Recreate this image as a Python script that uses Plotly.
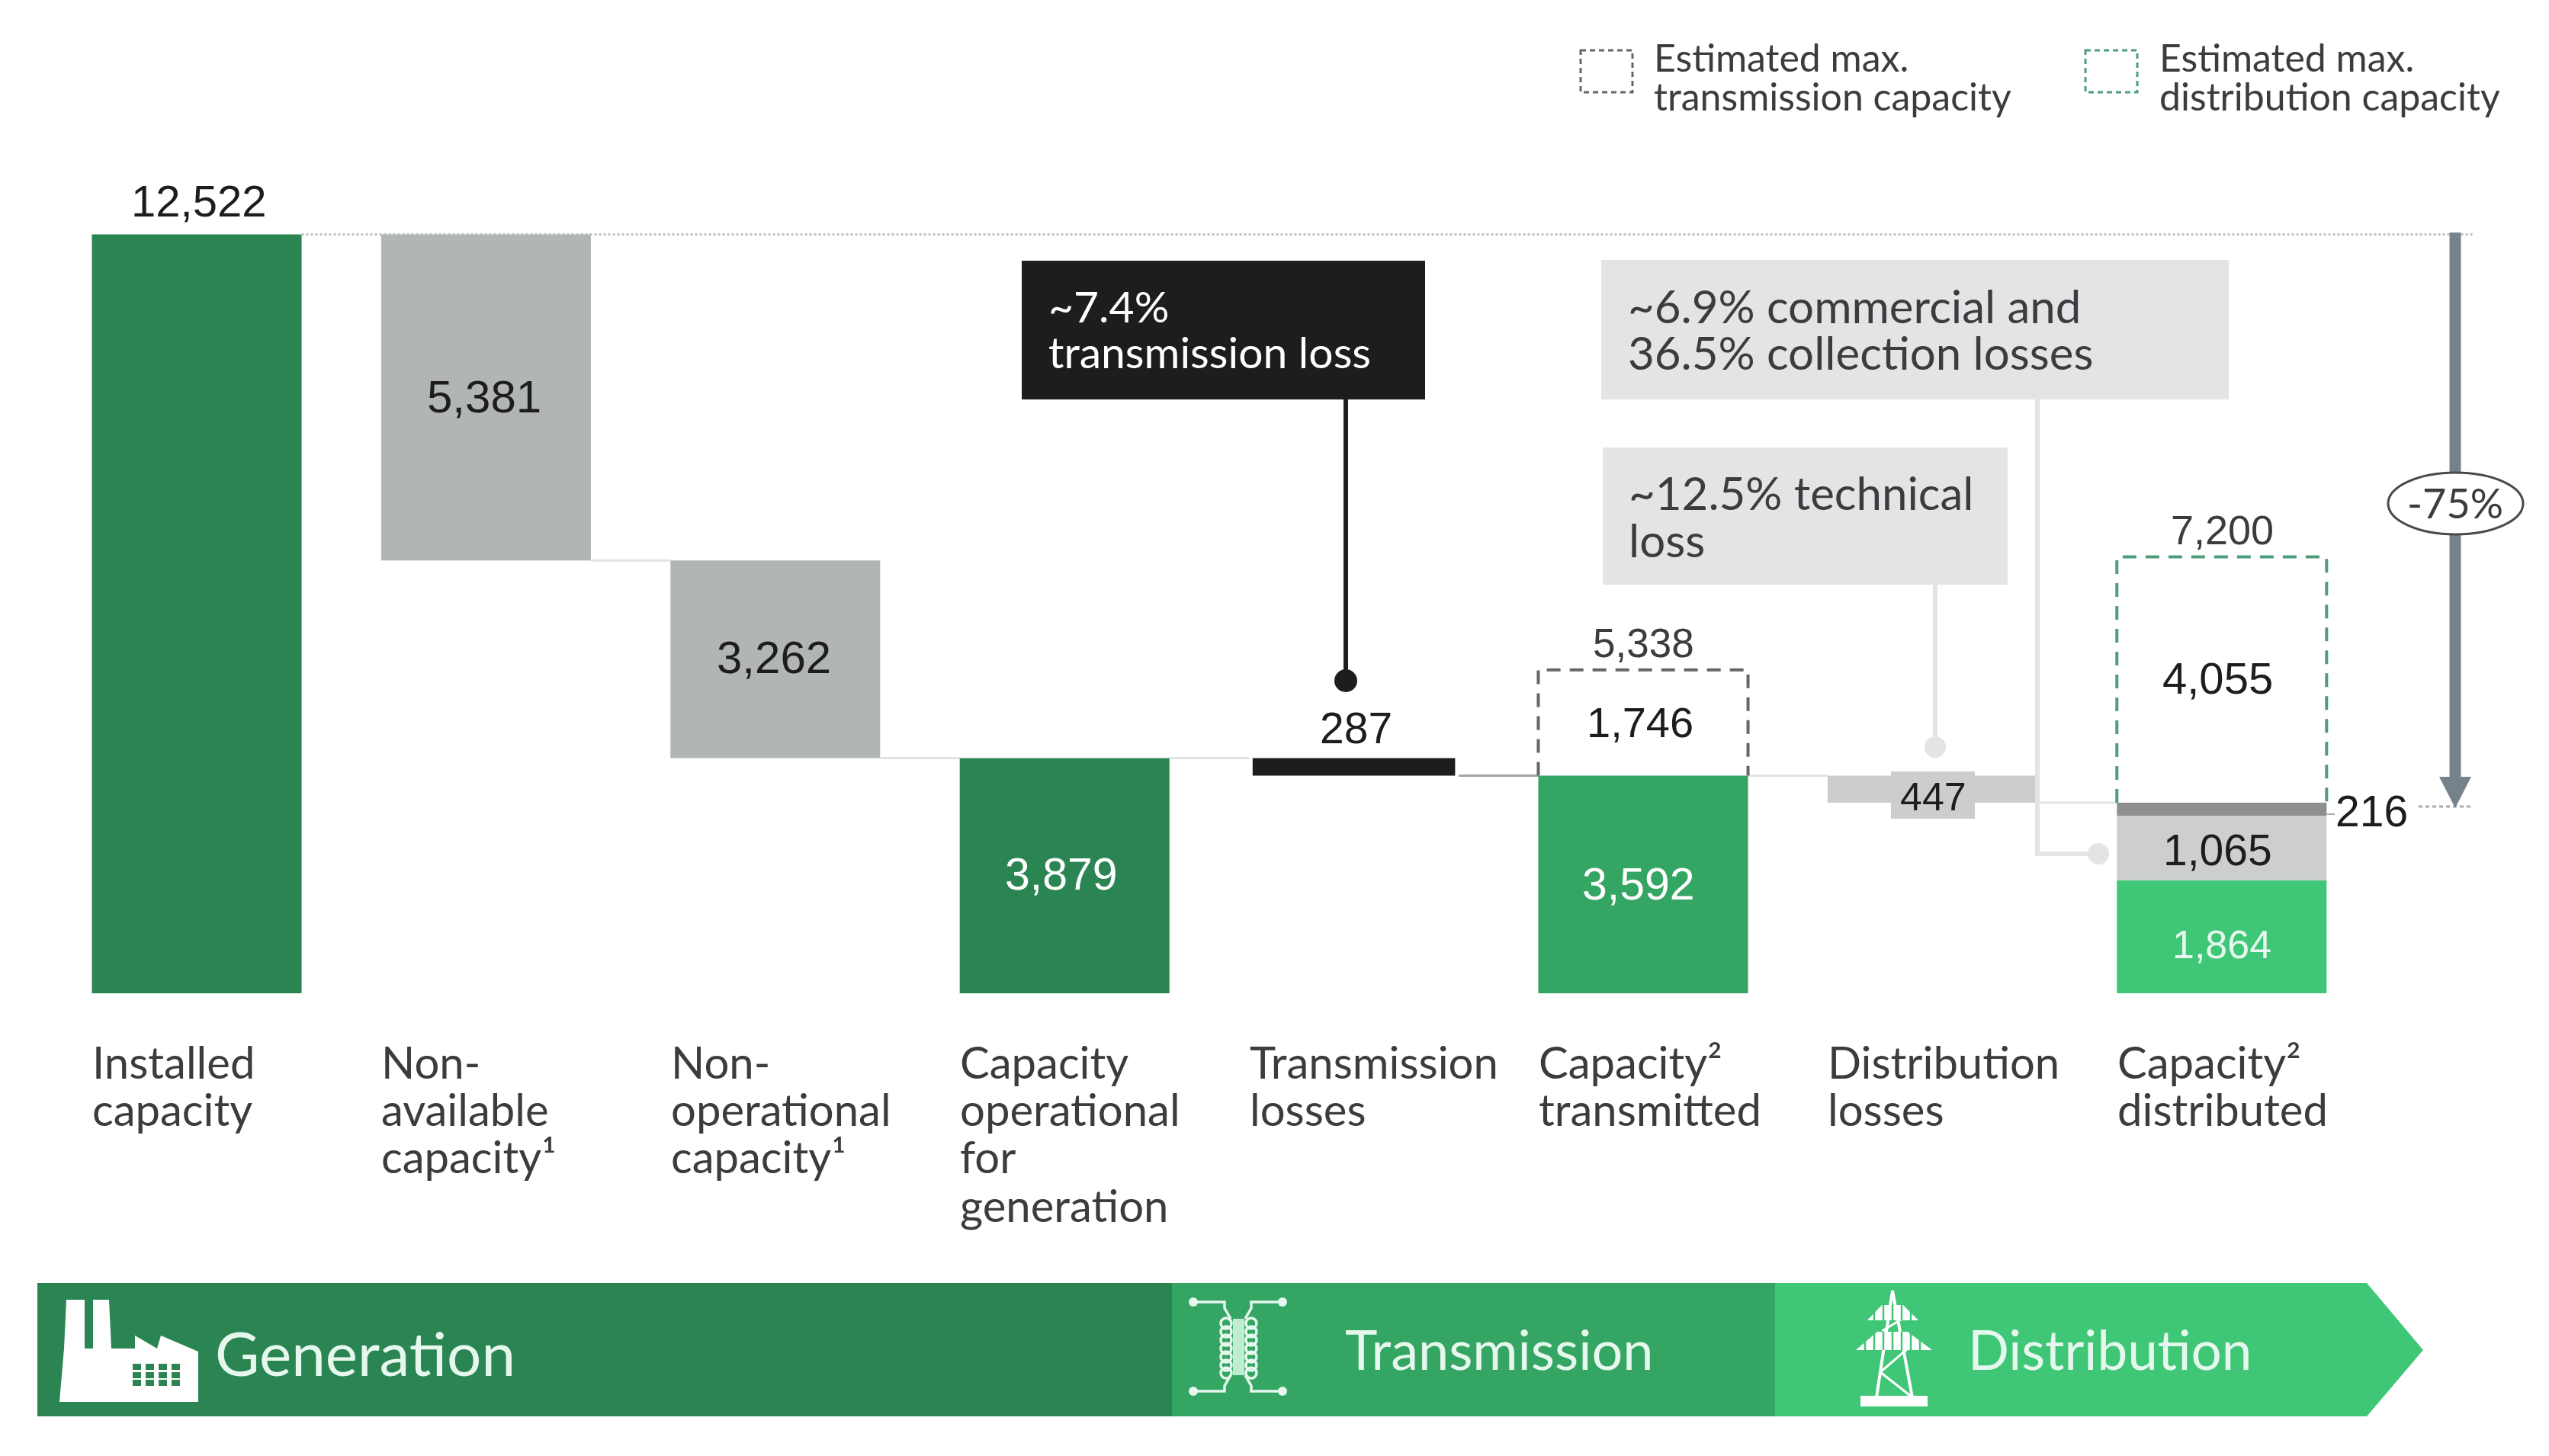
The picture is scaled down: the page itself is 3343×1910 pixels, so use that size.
"""Capacity waterfall: generation, transmission, distribution"""

import plotly.graph_objects as go

W, H = 3343, 1910

CATEGORIES = [
    ["Installed", "capacity"],
    ["Non-", "available", "capacity¹"],
    ["Non-", "operational", "capacity¹"],
    ["Capacity", "operational", "for", "generation"],
    ["Transmission", "losses"],
    ["Capacity²", "transmitted"],
    ["Distribution", "losses"],
    ["Capacity²", "distributed"],
]

INSTALLED = 12522
NON_AVAILABLE = 5381
NON_OPERATIONAL = 3262
OPERATIONAL = 3879
TRANS_LOSS = 287
TRANSMITTED = 3592
TRANS_MAX_EXTRA = 1746
TRANS_MAX = 5338
DIST_LOSS = 447
DISTRIBUTED = 1864
COLLECTION_LOSS = 1065
TECH_GAP = 216
DIST_MAX_EXTRA = 4055
DIST_MAX = 7200

GEN_GREEN = "#2A8552"
TRANS_GREEN = "#34A562"
DIST_GREEN = "#3FC677"
GREY = "#B1B5B6"
BLACK = "#1E1C1D"
LIGHT = "#CCCDCF"
PALE = "#E2E4E6"
ARROW = "#76828A"
TEXT = "#3C3C3E"
MINT = "#E6F8EE"

SANS = "Liberation Sans"
BODY = "Lato"

# 軸スケール（ピクセル位置に合わせる）
X0, X_STEP = 258, 379.4
Y0, Y_SCALE = 1303, 0.0795
BAR_W = 0.725


def px(x):
    return x / W


def py(y):
    return 1 - y / H


def path(points, close=True):
    s = " ".join(f"{'M' if i == 0 else 'L'} {px(x):.5f},{py(y):.5f}" for i, (x, y) in enumerate(points))
    return s + (" Z" if close else "")


fig = go.Figure()

# 滝グラフ本体
after_avail = INSTALLED - NON_AVAILABLE
after_oper = after_avail - NON_OPERATIONAL
after_dist = TRANSMITTED - DIST_LOSS

bars = [
    (0, INSTALLED, 0, GEN_GREEN),
    (1, NON_AVAILABLE, after_avail, GREY),
    (2, NON_OPERATIONAL, after_oper, GREY),
    (3, OPERATIONAL, 0, GEN_GREEN),
    (4, TRANS_LOSS, TRANSMITTED, BLACK),
    (5, TRANSMITTED, 0, TRANS_GREEN),
    (6, DIST_LOSS, after_dist, LIGHT),
    (7, DISTRIBUTED, 0, DIST_GREEN),
    (7, COLLECTION_LOSS, DISTRIBUTED, "#CDCED0"),
    (7, TECH_GAP, DISTRIBUTED + COLLECTION_LOSS, "#8E8F91"),
]
fig.add_trace(go.Bar(
    x=[b[0] for b in bars],
    y=[b[1] for b in bars],
    base=[b[2] for b in bars],
    width=[0.7 if b[0] == 4 else BAR_W for b in bars],
    marker=dict(color=[b[3] for b in bars], line_width=0),
    hoverinfo="skip",
))

# 破線の最大容量
for i, low, high, color in [(5, TRANSMITTED, TRANS_MAX, "#666668"), (7, after_dist, DIST_MAX, "#4E9E7C")]:
    left, right = i - BAR_W / 2, i + BAR_W / 2
    fig.add_trace(go.Scatter(
        x=[left, left, right, right], y=[low, high, high, low],
        mode="lines", line=dict(color=color, width=4, dash="18px,12px"),
        hoverinfo="skip",
    ))


def connector(i, value, color="#E2E3E4", dash=None, width=3, to=None):
    fig.add_shape(
        type="line", xref="x", yref="y", layer="below",
        x0=i + BAR_W / 2, x1=(to if to is not None else i + 1 - BAR_W / 2), y0=value, y1=value,
        line=dict(color=color, width=width, dash=dash),
    )


connector(1, after_avail)
connector(2, after_oper)
connector(3, OPERATIONAL)
connector(4, TRANSMITTED, color="#A3A4A6")
connector(5, TRANSMITTED)
connector(6, after_dist)
# 上部の点線
connector(0, INSTALLED, color="#BDBFC0", dash="3px,3px", to=(3243 - X0) / X_STEP)
fig.add_shape(type="line", xref="paper", yref="paper", x0=px(3172), x1=px(3241), y0=py(1058), y1=py(1058),
              line=dict(color="#A9ABAD", width=3, dash="5px,4px"))
fig.add_shape(type="line", xref="paper", yref="paper", x0=px(3052), x1=px(3062), y0=py(1068), y1=py(1068),
              line=dict(color="#A9ABAD", width=2))


def rect(x0, y0, x1, y1, fill, layer="above"):
    fig.add_shape(type="rect", xref="paper", yref="paper", x0=px(x0), x1=px(x1), y0=py(y0), y1=py(y1),
                  fillcolor=fill, line_width=0, layer=layer)


def seg(points, color, width, layer="above"):
    fig.add_shape(type="path", xref="paper", yref="paper", path=path(points, close=False),
                  line=dict(color=color, width=width), layer=layer)


def dot(x, y, r, fill, line=None, width=0):
    fig.add_shape(type="circle", xref="paper", yref="paper", x0=px(x - r), x1=px(x + r), y0=py(y - r), y1=py(y + r),
                  fillcolor=fill, line=dict(color=line or fill, width=width))


def poly(points, fill):
    fig.add_shape(type="path", xref="paper", yref="paper", path=path(points), fillcolor=fill, line_width=0)


def text(x, y, s, size, color=TEXT, family=BODY, anchor="left"):
    fig.add_annotation(
        xref="paper", yref="paper", x=px(x), y=py(y), text=s, showarrow=False,
        xanchor=anchor, yanchor="middle", font=dict(family=family, size=size, color=color),
    )


# 吹き出し
rect(1340, 342, 1869, 524, BLACK)
seg([(1765, 524), (1765, 893)], BLACK, 6)
dot(1765, 893, 15, BLACK)
rect(2100, 341, 2923, 524, PALE)
seg([(2672, 524), (2672, 1120), (2752, 1120)], PALE, 6)
dot(2752, 1120, 14, PALE)
rect(2102, 587, 2633, 767, PALE)
seg([(2538, 767), (2538, 980)], PALE, 6)
dot(2538, 980, 14, PALE)
rect(2480, 1012, 2590, 1074, LIGHT)

# -75% 矢印
seg([(3220, 305), (3220, 1025)], ARROW, 15)
poly([(3199, 1019), (3241, 1019), (3220, 1060)], ARROW)
fig.add_shape(type="circle", xref="paper", yref="paper", x0=px(3132), x1=px(3309), y0=py(620), y1=py(701),
              fillcolor="white", line=dict(color="#4A4A4C", width=3))

# 凡例
for x0, color in [(2073, "#666668"), (2735, "#4E9E7C")]:
    fig.add_shape(type="rect", xref="paper", yref="paper", x0=px(x0), x1=px(x0 + 68), y0=py(66), y1=py(121),
                  line=dict(color=color, width=3, dash="7px,5px"))

# 下部リボン
rect(49, 1683, 1537, 1858, GEN_GREEN)
rect(1537, 1683, 2328, 1858, TRANS_GREEN)
poly([(2328, 1683), (3104, 1683), (3178, 1771), (3104, 1858), (2328, 1858)], DIST_GREEN)

# 工場アイコン
poly([(78, 1839), (84, 1769), (87, 1705), (111, 1705), (111, 1769), (122, 1769), (122, 1705), (143, 1705),
      (146, 1769), (177, 1769), (177, 1752), (206, 1769), (211, 1752), (260, 1773), (260, 1839)], "white")
for wx in [174, 191, 208, 225]:
    for wy in [1789, 1800, 1810]:
        rect(wx, wy, wx + 11, wy + 8, GEN_GREEN)

# 変圧器アイコン
for side, inner, sign in [(1565, 1606, 1), (1682, 1641, -1)]:
    seg([(side, 1708), (inner, 1708), (inner, 1716), (inner + sign * 8, 1730)], MINT, 3.5)
    seg([(side, 1825), (inner, 1825), (inner, 1818), (inner + sign * 8, 1804)], MINT, 3.5)
    dot(side, 1708, 6, MINT)
    dot(side, 1825, 6, MINT)
rect(1617, 1730, 1632, 1804, "#BFEBD0")
for cy in [1736, 1747, 1758, 1769, 1780, 1791, 1801]:
    for cx in [1608, 1641]:
        dot(cx, cy, 7, "rgba(0,0,0,0)", MINT, 3.5)

# 送電塔アイコン
seg([(2461, 1833), (2482, 1693), (2508, 1833)], "white", 4)
seg([(2466, 1800), (2501, 1770), (2470, 1745), (2495, 1730)], "white", 3)
seg([(2466, 1800), (2508, 1833)], "white", 3)
poly([(2449, 1732), (2468, 1712), (2496, 1712), (2516, 1732)], "white")
poly([(2434, 1771), (2462, 1747), (2502, 1747), (2534, 1771)], "white")
# 腕の格子
for gx in [2458, 2470, 2482, 2494, 2506]:
    seg([(gx, 1712), (gx, 1732)], DIST_GREEN, 2.5)
for gx in [2446, 2458, 2470, 2482, 2494, 2506, 2518]:
    seg([(gx, 1747), (gx, 1771)], DIST_GREEN, 2.5)
rect(2440, 1831, 2528, 1845, "white")

# カテゴリラベル
LABEL_LINES_Y = [1392, 1454, 1516, 1580]
for i, lines in enumerate(CATEGORIES):
    left = X0 + X_STEP * i - 139
    for line, y in zip(lines, LABEL_LINES_Y):
        text(left, y, line, 58)

# 数値ラベル
for x, y, s, size, color in [
    (260, 264, f"{INSTALLED:,}", 58, BLACK),
    (635, 520, f"{NON_AVAILABLE:,}", 60, BLACK),
    (1015, 863, f"{NON_OPERATIONAL:,}", 60, BLACK),
    (1392, 1147, f"{OPERATIONAL:,}", 59, "white"),
    (1778, 955, f"{TRANS_LOSS:,}", 57, BLACK),
    (2155, 844, f"{TRANS_MAX:,}", 53, TEXT),
    (2151, 947, f"{TRANS_MAX_EXTRA:,}", 56, BLACK),
    (2149, 1160, f"{TRANSMITTED:,}", 59, "white"),
    (2535, 1045, f"{DIST_LOSS:,}", 52, BLACK),
    (2914, 695, f"{DIST_MAX:,}", 54, TEXT),
    (2908, 889, f"{DIST_MAX_EXTRA:,}", 58, BLACK),
    (2908, 1115, f"{COLLECTION_LOSS:,}", 57, BLACK),
    (2914, 1239, f"{DISTRIBUTED:,}", 52, MINT),
    (3110, 1064, f"{TECH_GAP:,}", 57, BLACK),
]:
    text(x, y, s, size, color, SANS, "center")

# 吹き出しテキスト
text(1373, 401, "~7.4%", 57, "white")
text(1373, 461, "transmission loss", 57, "white")
text(2133, 401, "~6.9% commercial and", 60)
text(2133, 462, "36.5% collection losses", 60)
text(2134, 646, "~12.5% technical", 60)
text(2134, 708, "loss", 60)
text(3220, 659, "-75%", 54, TEXT, BODY, "center")
text(2167, 75, "Estimated max.", 50)
text(2167, 126, "transmission capacity", 50)
text(2830, 75, "Estimated max.", 50)
text(2830, 126, "distribution capacity", 50)
text(280, 1774, "Generation", 80, MINT)
text(1762, 1769, "Transmission", 72, MINT)
text(2579, 1769, "Distribution", 71, MINT)

fig.update_layout(
    width=W, height=H,
    margin=dict(l=0, r=0, t=0, b=0, autoexpand=False),
    plot_bgcolor="white", paper_bgcolor="white",
    showlegend=False,
    barmode="overlay",
    xaxis=dict(visible=False, range=[(0 - X0) / X_STEP, (W - X0) / X_STEP]),
    yaxis=dict(visible=False, range=[(Y0 - H) / Y_SCALE, Y0 / Y_SCALE]),
)

fig.write_html(
    "out.html",
    config=dict(displayModeBar=False),
    post_script="document.body.style.margin='0';document.body.style.overflow='hidden';",
)
